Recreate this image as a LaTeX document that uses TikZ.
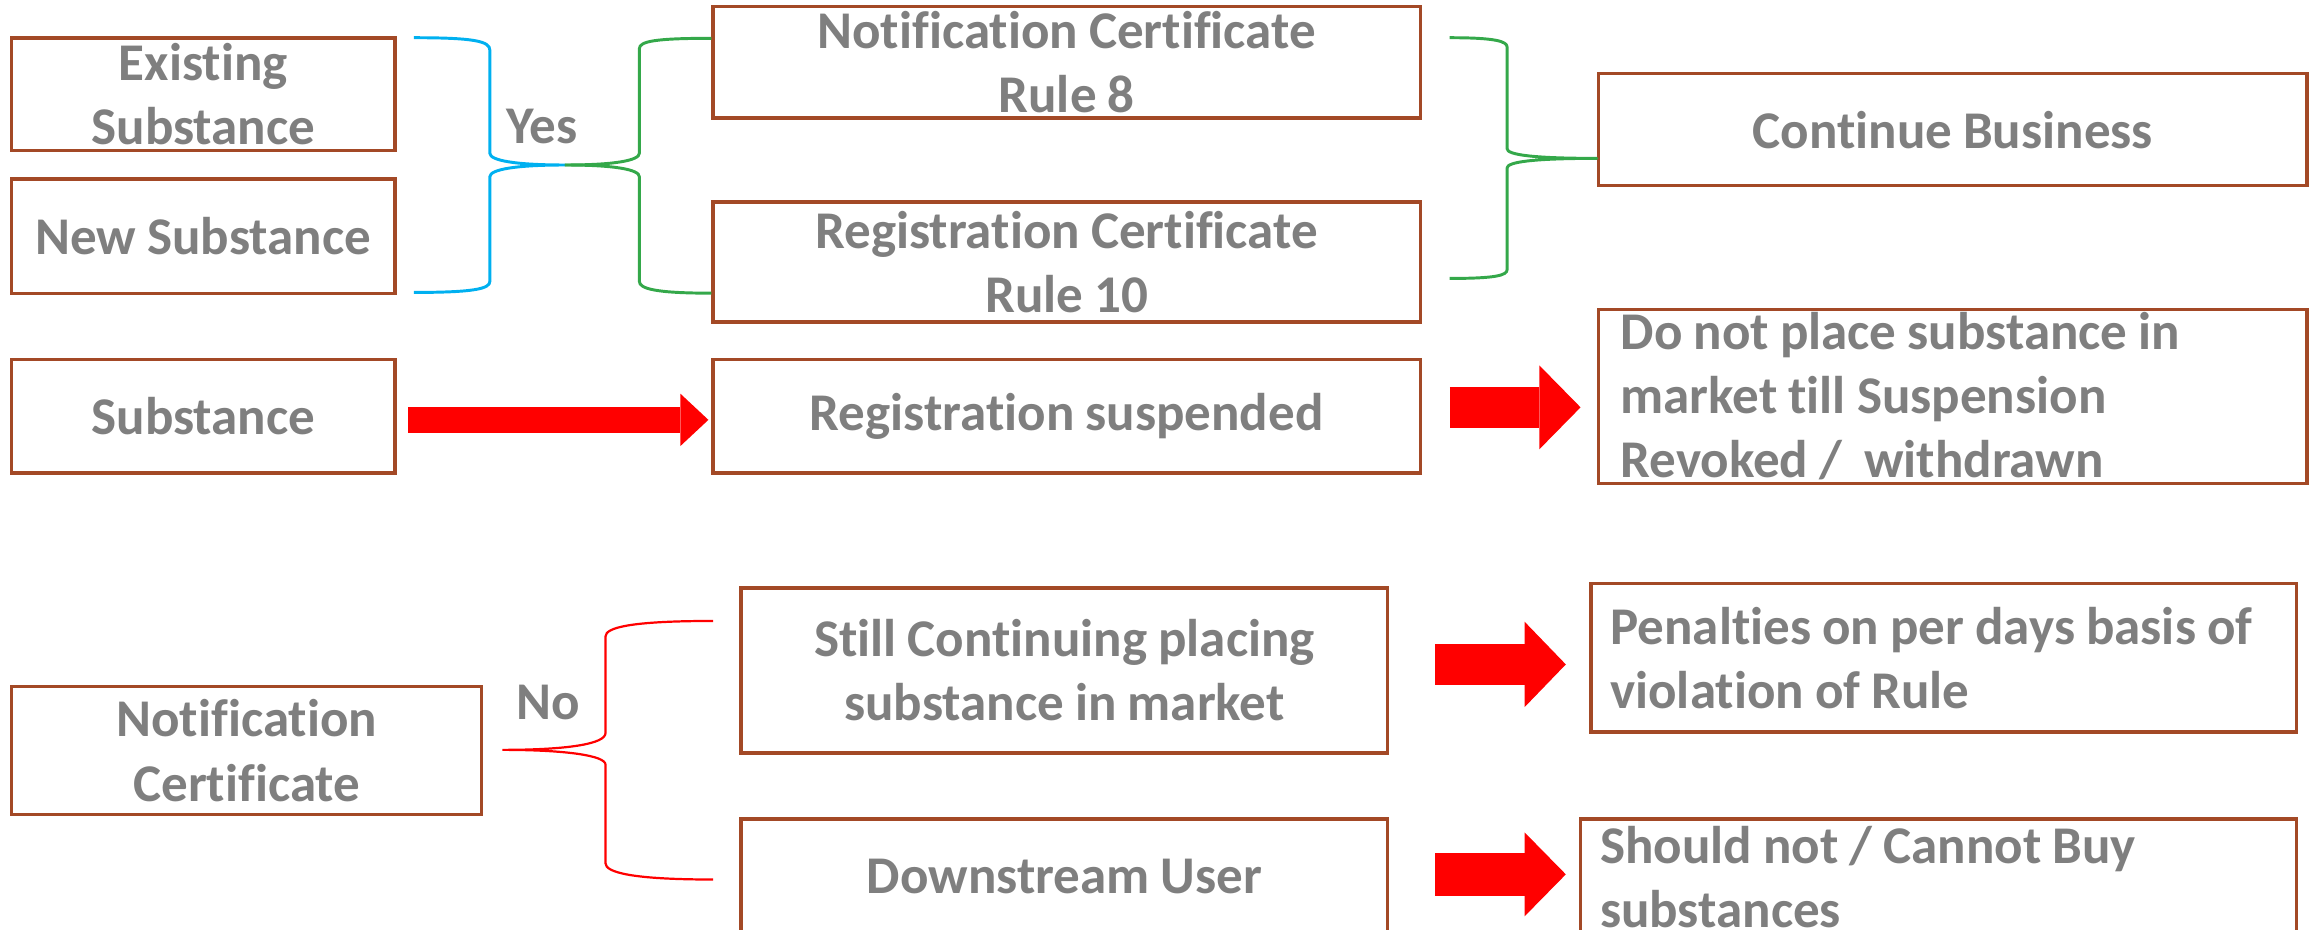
\documentclass[tikz,border=0pt]{standalone}
\usepackage{fontspec}
\setmainfont[Ligatures=NoCommon, WordSpace={0.92,0,0}]{Carlito}
\usetikzlibrary{arrows.meta}
\definecolor{boxbrown}{RGB}{163,73,38}
\definecolor{labelgray}{RGB}{127,127,127}
\definecolor{braceblue}{RGB}{0,176,240}
\definecolor{bracegreen}{RGB}{52,168,74}
\definecolor{arrowred}{RGB}{255,0,0}
\begin{document}
\begin{tikzpicture}[x=1pt,y=-1pt,
  box/.style={draw=boxbrown, line width=2.3pt, inner sep=0pt, text=labelgray,
    font=\bfseries\fontsize{36}{43.5}\selectfont, align=center},
  lbl/.style={text=labelgray, font=\bfseries\fontsize{36}{43.5}\selectfont, inner sep=0pt},
  lefttext/.style={lbl, align=left, anchor=west},
  brace/.style={line width=2pt, line join=round},
  blockarrow/.style={arrowred, line width=#1},
  blockarrow/.default=28pt]
\useasboundingbox (0,0) rectangle (1568,631);
\clip (0,0) rectangle (1568,631);

% boxes with centred text
\node[box, minimum width=260pt, minimum height=76.5pt] (exist) at (138,64) {Existing\\Substance};
\node[box, minimum width=260pt, minimum height=77.5pt] (new) at (138,160.3) {New Substance};
\node[box, minimum width=480pt, minimum height=75.5pt] (notif8) at (724,42.3) {Notification Certificate\\Rule 8};
\node[box, minimum width=480pt, minimum height=81.5pt] (reg10) at (724,177.8) {Registration Certificate\\Rule 10};
\node[box, minimum width=481pt, minimum height=76pt] (cont) at (1325.5,88) {Continue Business};
\node[box, minimum width=260pt, minimum height=77pt] (subst) at (138,282.5) {Substance};
\node[box, minimum width=480pt, minimum height=77pt] (regsus) at (724,282.5) {Registration suspended};
\node[box, minimum width=319pt, minimum height=87pt] (notifc) at (167.5,509.5) {Notification\\Certificate};
\node[box, minimum width=439pt, minimum height=112pt] (still) at (722.5,455) {Still Continuing placing\\substance in market};
\node[box, minimum width=439pt, minimum height=78pt] (down) at (722.5,595) {Downstream User};

% boxes with left-aligned text
\node[box, minimum width=481pt, minimum height=118pt] (donot) at (1325.5,269) {};
\node[lefttext] (donottext) at ([xshift=16pt]donot.west) {Do not place substance in\\market till Suspension\\Revoked / \ withdrawn};
\node[box, minimum width=479pt, minimum height=101pt] (penal) at (1319.5,446.5) {};
\node[lefttext] (penaltext) at ([xshift=14pt]penal.west) {Penalties on per days basis of\\violation of Rule};
\node[box, minimum width=486pt, minimum height=79pt] (should) at (1316,595.5) {};
\node[lefttext] (shouldtext) at ([xshift=14pt]should.west) {Should not / Cannot Buy\\substances};

% labels
\node[lbl] (yes) at (368,86) {Yes};
\node[lbl] (no) at (372,477) {No};

% brace joining the two substance kinds
\coordinate (bTop) at (281,25.6);
\coordinate (bBot) at (281,198.5);
\coordinate (bTip) at (383.5,112);
\draw[brace, braceblue] (bTop) .. controls (322,25.6) and (332.5,28) .. (332.5,34) -- (332.5,104)
  .. controls (332.5,109) and (350,112) .. (bTip)
  .. controls (350,112) and (332.5,115) .. (332.5,120) -- (332.5,191)
  .. controls (332.5,196) and (322,198.5) .. (bBot);

% brace splitting towards the two certificates
\coordinate (gTop) at (notif8.west |- 0,26);
\coordinate (gBot) at (reg10.west |- 0,199);
\draw[brace, bracegreen] (bTip) .. controls (417,112) and (434,109) .. (434,104) -- (434,33)
  .. controls (434,28) and (445,26) .. (gTop);
\draw[brace, bracegreen] (bTip) .. controls (417,112) and (434,115) .. (434,120) -- (434,191)
  .. controls (434,196) and (445,199) .. (gBot);

% brace gathering the certificates into the business box
\coordinate (rTop) at (984,25.6);
\coordinate (rBot) at (984,189);
\coordinate (rTip) at (cont.west |- 0,107.5);
\draw[brace, bracegreen] (rTop) .. controls (1015,25.6) and (1023,28) .. (1023,32) -- (1023,101)
  .. controls (1023,105) and (1040,107.5) .. (rTip)
  .. controls (1040,107.5) and (1023,110) .. (1023,114) -- (1023,183)
  .. controls (1023,187) and (1015,189) .. (rBot);

% brace for the missing certificate
\coordinate (nTip) at (341,509);
\coordinate (nTop) at (484,421.5);
\coordinate (nBot) at (484,597);
\draw[line width=1.5pt, arrowred] (nTop) .. controls (428,421.5) and (411,426) .. (411,432) -- (411,497.6)
  .. controls (411,505) and (385,509) .. (nTip)
  .. controls (385,509) and (411,513) .. (411,519) -- (411,586)
  .. controls (411,592) and (428,597) .. (nBot);

% block arrows
\draw[blockarrow=18pt, -{Triangle[length=19pt, width=35.5pt, line width=0pt]}]
  ([xshift=8pt, yshift=-2.5pt]subst.east) -- ([xshift=-2pt, yshift=-2.5pt]regsus.west);
\draw[blockarrow=28pt, -{Triangle[length=28pt, width=57pt, line width=0pt]}]
  ([xshift=19pt, yshift=6pt]regsus.east) -- ([xshift=-11pt, yshift=-7.5pt]donot.west);
\draw[blockarrow=28pt, -{Triangle[length=28pt, width=58pt, line width=0pt]}]
  ([xshift=31pt, yshift=4pt]still.east) -- ([xshift=-16pt, yshift=-4.5pt]penal.west);
\draw[blockarrow=29pt, -{Triangle[length=28pt, width=57pt, line width=0pt]}]
  ([xshift=31pt, yshift=1.5pt]down.east) -- ([xshift=-9pt, yshift=2pt]should.west);
\end{tikzpicture}
\end{document}
